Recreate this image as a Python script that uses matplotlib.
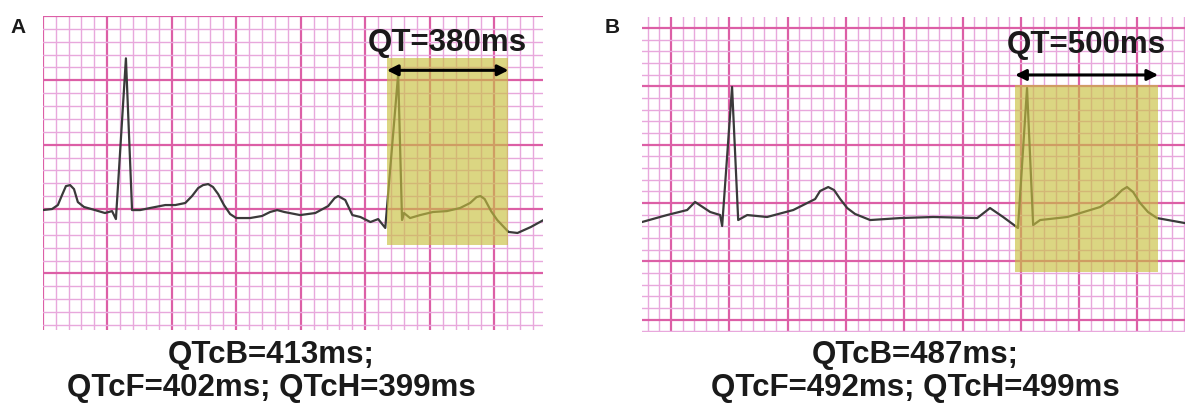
import matplotlib.pyplot as plt
import numpy as np

# === Trace data (time in s, amplitude in mV) ===
t_a = [0.000, 0.029, 0.047, 0.060, 0.072, 0.085, 0.097, 0.109, 0.128, 0.162,
       0.193, 0.215, 0.227, 0.258, 0.277, 0.302, 0.333, 0.380, 0.411, 0.442,
       0.463, 0.482, 0.497, 0.513, 0.528, 0.544, 0.562, 0.581, 0.600, 0.643,
       0.680, 0.705, 0.727, 0.749, 0.798, 0.845, 0.885, 0.905, 0.916, 0.938,
       0.960, 0.985, 1.016, 1.040, 1.062, 1.102, 1.114, 1.120, 1.139, 1.170,
       1.210, 1.253, 1.294, 1.325, 1.345, 1.357, 1.370, 1.390, 1.409, 1.444,
       1.472, 1.513, 1.553]
v_a = [-0.008, 0.000, 0.031, 0.109, 0.178, 0.186, 0.155, 0.054, 0.016, -0.008,
       -0.031, -0.016, -0.078, 1.171, -0.008, -0.008, 0.008, 0.031, 0.031, 0.047,
       0.101, 0.163, 0.186, 0.194, 0.171, 0.116, 0.031, -0.039, -0.070, -0.070,
       -0.054, -0.023, -0.008, -0.023, -0.047, -0.031, 0.023, 0.085, 0.101, 0.070,
       -0.047, -0.062, -0.101, -0.078, -0.147, 1.050, -0.085, -0.031, -0.070, -0.047,
       -0.023, -0.016, 0.008, 0.047, 0.093, 0.101, 0.078, -0.016, -0.085, -0.178,
       -0.186, -0.140, -0.085]

t_b = [-0.100, -0.014, 0.055, 0.082, 0.134, 0.168, 0.175, 0.209, 0.230, 0.261,
       0.329, 0.419, 0.494, 0.511, 0.539, 0.559, 0.580, 0.604, 0.631, 0.683,
       0.786, 0.899, 1.050, 1.094, 1.139, 1.190, 1.221, 1.242, 1.266, 1.359,
       1.472, 1.523, 1.547, 1.564, 1.585, 1.609, 1.636, 1.667, 1.763]
v_b = [-0.163, -0.103, -0.060, 0.009, -0.077, -0.103, -0.197, 0.995, -0.146, -0.103,
       -0.120, -0.060, 0.034, 0.103, 0.137, 0.111, 0.034, -0.043, -0.094, -0.146,
       -0.129, -0.120, -0.129, -0.043, -0.120, -0.214, 0.986, -0.189, -0.146, -0.120,
       -0.034, 0.051, 0.111, 0.137, 0.094, 0.000, -0.077, -0.129, -0.172]

# QT windows (start, end in s) and labels
qt_a = (1.067, 1.444)
qt_b = (1.180, 1.671)
qt_label_a = "QT=380ms"
qt_label_b = "QT=500ms"
qtc_a = ["QTcB=413ms;", "QTcF=402ms; QTcH=399ms"]
qtc_b = ["QTcB=487ms;", "QTcF=492ms; QTcH=499ms"]

# === Style ===
plt.rcParams["font.family"] = ["Liberation Sans", "DejaVu Sans"]
major_col = "#dc5fa6"
minor_col = "#e8a8dc"
trace_col = "#3a3a3a"
box_col = "#c8c040"

W, H = 1185, 405
fig = plt.figure(figsize=(W / 100, H / 100), dpi=100, facecolor="white")


def ecg_panel(rect, t, v, xlim, ylim, qt, box_v, arrow_v, label, label_v):
    ax = fig.add_axes(rect)
    # paper grid: big box 0.2 s / 0.5 mV, small box 0.04 s / 0.1 mV
    ax.set_xticks(np.arange(0, xlim[1] + 1e-6, 0.2))
    ax.set_xticks(np.arange(-0.2, xlim[1] + 1e-6, 0.04), minor=True)
    ax.set_yticks(np.arange(-1.0, ylim[1] + 1e-6, 0.5))
    ax.set_yticks(np.arange(-1.1, ylim[1] + 1e-6, 0.1), minor=True)
    ax.grid(which="minor", color=minor_col, lw=1.0)
    ax.grid(which="major", color=major_col, lw=1.6)
    ax.set_axisbelow(True)
    ax.tick_params(which="both", length=0, labelbottom=False, labelleft=False)
    for s in ax.spines.values():
        s.set_visible(False)

    ax.plot(t, v, color=trace_col, lw=1.6, zorder=3,
            solid_joinstyle="round", solid_capstyle="round")

    # highlighted QT window (drawn over the trace)
    ax.fill_between([qt[0], qt[1]], box_v[0], box_v[1], color=box_col,
                    alpha=0.65, lw=0, zorder=4)
    ax.annotate("", xy=(qt[1], arrow_v), xytext=(qt[0], arrow_v),
                arrowprops=dict(arrowstyle="<|-|>", color="black", lw=2.2,
                                mutation_scale=16, shrinkA=0, shrinkB=0),
                zorder=5)
    ax.text((qt[0] + qt[1]) / 2, label_v, label, ha="center", va="baseline",
            fontsize=22.5, fontweight="bold", color="#1a1a1a", zorder=5)
    ax.set_xlim(*xlim)
    ax.set_ylim(*ylim)
    return ax


# === Panel A ===
ecg_panel([42.7 / W, 75 / H, (543 - 42.7) / W, 314 / H],
          t_a, v_a, (0, 1.551), (-0.94, 1.50),
          qt_a, (-0.279, 1.171), 1.078, qt_label_a, 1.23)

# === Panel B ===
ecg_panel([642 / W, 73 / H, (1185 - 642) / W, 315 / H],
          t_b, v_b, (-0.1, 1.763), (-1.106, 1.595),
          qt_b, (-0.592, 1.012), 1.098, qt_label_b, 1.286)

# === Panel letters and corrected QT text ===
fig.text(10 / W, 1 - 33 / H, "A", fontsize=15, fontweight="bold", color="#1a1a1a")
fig.text(605 / W, 1 - 33 / H, "B", fontsize=15, fontweight="bold", color="#1a1a1a")

for cx, lines in [(271, qtc_a), (915, qtc_b)]:
    fig.text(cx / W, 1 - 363 / H, lines[0], ha="center", va="baseline",
             fontsize=22.5, fontweight="bold", color="#1a1a1a")
    fig.text(cx / W, 1 - 396 / H, lines[1], ha="center", va="baseline",
             fontsize=22.5, fontweight="bold", color="#1a1a1a")

plt.savefig("out.png", dpi=100, facecolor="white")
